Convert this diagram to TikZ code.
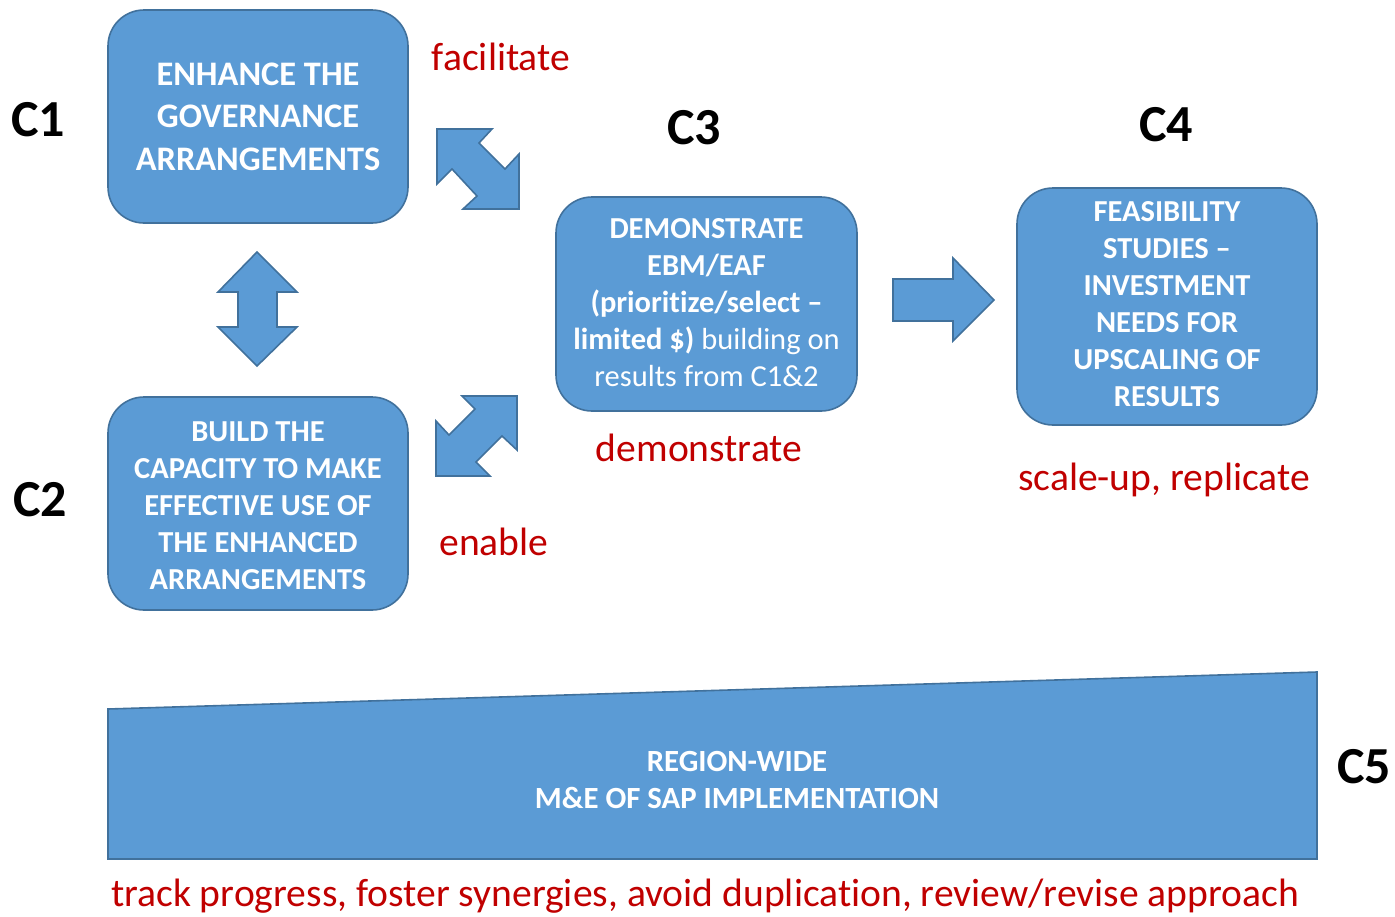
\documentclass[tikz,border=0pt]{standalone}
\usepackage{fontspec}
\setmainfont{Carlito}[Ligatures=NoCommon]
\definecolor{boxfill}{HTML}{5B9BD5}
\definecolor{boxline}{HTML}{41719C}
\definecolor{labred}{HTML}{C00000}
\begin{document}
\begin{tikzpicture}[x=1pt,y=-1pt,
  cbox/.style={draw=boxline,line width=1.6pt,fill=boxfill,rounded corners=36pt,
    text=white,align=center,inner sep=0pt},
  boxtext/.style={text=white,align=center,inner sep=0pt},
  blockarrow/.style={draw=boxline,line width=1.6pt,fill=boxfill,line join=miter},
  clabel/.style={font=\fontsize{52}{58}\selectfont\bfseries,text=black,inner sep=0pt},
  redlabel/.style={font=\fontsize{39.6}{44}\selectfont,text=labred,inner sep=0pt},
  bigtxt/.style={font=\fontsize{34.4}{42.5}\selectfont\bfseries},
  smalltxt/.style={font=\fontsize{30.5}{37}\selectfont\bfseries}]
\useasboundingbox (0,0) rectangle (1395,916);

% boxes
\node[cbox,minimum width=300pt,minimum height=213pt] (c1) at (258,116.5) {};
\node[boxtext,bigtxt] (t1) at (c1.center) {ENHANCE THE\\GOVERNANCE\\ARRANGEMENTS};
\node[cbox,minimum width=300pt,minimum height=213pt] (c2) at (258,503.5) {};
\node[boxtext,smalltxt] (t2) at ([yshift=-2pt]c2.center)
  {BUILD THE\\CAPACITY TO MAKE\\EFFECTIVE USE OF\\THE ENHANCED\\ARRANGEMENTS};
\node[cbox,minimum width=301pt,minimum height=214pt] (c3) at (706.5,304) {};
\node[boxtext,smalltxt] (t3) at ([yshift=1pt]c3.center)
  {DEMONSTRATE\\EBM/EAF\\(prioritize/select --\\limited \$) \mdseries building on\\\mdseries results from C1\&2};
\node[cbox,minimum width=300pt,minimum height=237pt] (c4) at (1167,306.5) {};
\node[boxtext,smalltxt] (t4) at ([yshift=2pt]c4.center)
  {FEASIBILITY\\STUDIES --\\INVESTMENT\\NEEDS FOR\\UPSCALING OF\\RESULTS};

% trapezoid C5
\draw[blockarrow] (108,709) -- (1317,672) -- (1317,859) -- (108,859) -- cycle;
\node[boxtext,font=\fontsize{30.8}{37}\selectfont\bfseries] (c5) at (737,780)
  {REGION-WIDE\\M\&E OF SAP IMPLEMENTATION};

% C labels
\node[clabel] (l1) at (38,120) {C1};
\node[clabel] (l2) at (40,500) {C2};
\node[clabel] (l3) at (694,128) {C3};
\node[clabel] (l4) at (1166,125) {C4};
\node[clabel] (l5) at (1364,767) {C5};

% red labels
\node[redlabel] (facil) at (501,57) {facilitate};
\node[redlabel] (demo) at (699,448) {demonstrate};
\node[redlabel] (enab) at (494,542) {enable};
\node[redlabel] (scale) at (1164,480) {scale-up, replicate};
\node[redlabel] (track) at (705,896)
  {track progress, foster synergies, avoid duplication, review/revise approach};

% block arrows
\draw[blockarrow] (437,129) -- (492,129) -- (479,143) -- (505,169) -- (519,154) -- (519,209)
  -- (463,209) -- (477,196) -- (452,169) -- (437,184) -- cycle;
\draw[blockarrow] (517,396) -- (462,396) -- (475,409) -- (449,435) -- (436,421) -- (436,476)
  -- (490,476) -- (476,462) -- (502,436) -- (517,450) -- cycle;
\draw[blockarrow] (257,252) -- (297,292) -- (277,292) -- (277,327) -- (297,327) -- (257,366)
  -- (218,327) -- (238,327) -- (238,292) -- (218,292) -- cycle;
\draw[blockarrow] (893,279) -- (953,279) -- (953,258) -- (994,300) -- (953,341) -- (953,321)
  -- (893,321) -- cycle;
\end{tikzpicture}
\end{document}
